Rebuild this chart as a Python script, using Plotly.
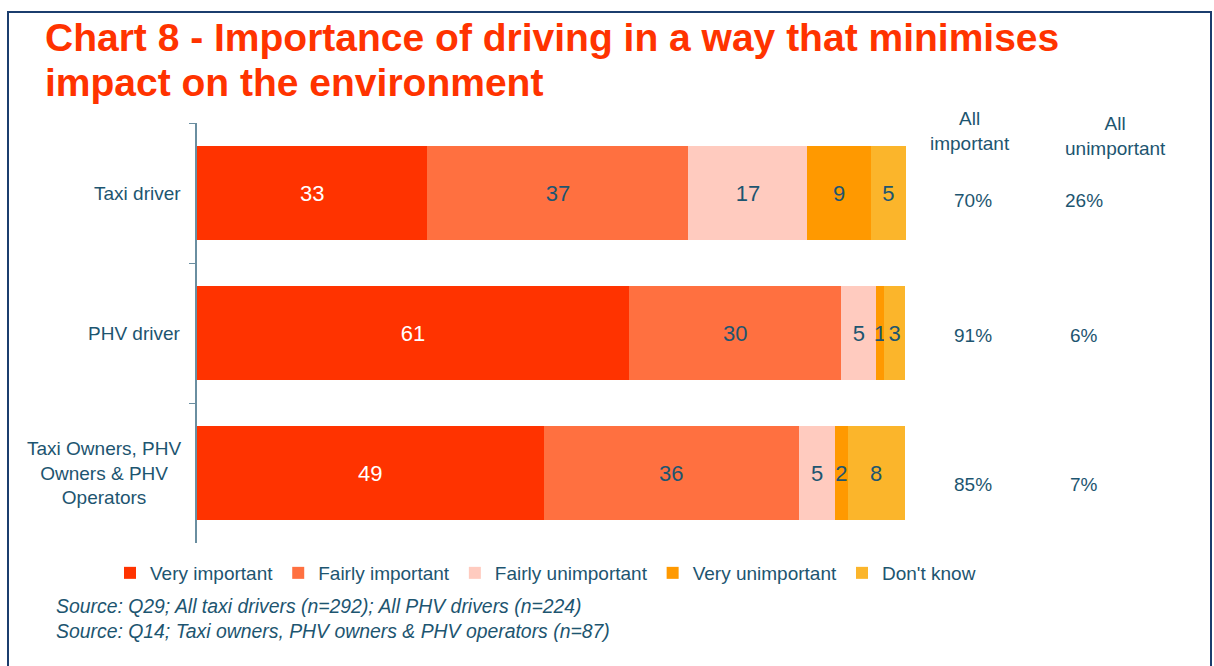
import plotly.graph_objects as go

categories = ["Taxi driver", "PHV driver", "Taxi Owners, PHV<br>Owners & PHV<br>Operators"]
series_names = ["Very important", "Fairly important", "Fairly unimportant", "Very unimportant", "Don't know"]
# estimated bar lengths (percent)
very_important = [32.5, 60.9, 48.9]
fairly_important = [36.8, 30.0, 36.0]
fairly_unimportant = [16.8, 4.9, 5.1]
very_unimportant = [8.9, 1.1, 1.8]
dont_know = [5.0, 3.0, 8.0]
# printed labels
labels_very_important = ["33", "61", "49"]
labels_fairly_important = ["37", "30", "36"]
labels_fairly_unimportant = ["17", "5", "5"]
labels_very_unimportant = ["9", "1", "2"]
labels_dont_know = ["5", "3", "8"]
all_important = ["70%", "91%", "85%"]
all_unimportant = ["26%", "6%", "7%"]
title_lines = ["Chart 8 - Importance of driving in a way that minimises", "impact on the environment"]

colors = ["#FF3300", "#FF7040", "#FFCBBF", "#FF9900", "#FBB52B"]
text_colors = ["#FFFFFF", "#1D5570", "#1D5570", "#1D5570", "#1D5570"]
values = [very_important, fairly_important, fairly_unimportant, very_unimportant, dont_know]
labels = [labels_very_important, labels_fairly_important, labels_fairly_unimportant,
          labels_very_unimportant, labels_dont_know]

TEAL = "#1D5570"
FONT = "Liberation Sans, Arial, sans-serif"

fig = go.Figure()
for name, vals, labs, col, tcol in zip(series_names, values, labels, colors, text_colors):
    fig.add_trace(go.Bar(
        y=categories, x=vals, name=name, orientation="h",
        marker=dict(color=col, line=dict(width=0)),
        text=labs, textposition="inside", insidetextanchor="middle", textangle=0,
        textfont=dict(color=tcol, size=22, family=FONT),
        hoverinfo="skip",
    ))

W, H = 1214, 666
L, R, T, B = 197, 308, 123, 123
pw, ph = W - L - R, H - T - B

def px_x(px):
    return (px - L) / pw

def px_y(py):
    return (H - B - py) / ph

annotations = []
# title (two lines)
for line, ymid in zip(title_lines, [37, 83]):
    annotations.append(dict(xref="paper", yref="paper", x=px_x(43), y=px_y(ymid),
                            text="<b>" + line + "</b>",
                            showarrow=False, xanchor="left", yanchor="middle", align="left",
                            font=dict(size=39, color="#FF3300", family=FONT)))
# category labels (centered multi-line, right-aligned block)
for cat in categories:
    annotations.append(dict(xref="paper", yref="y", x=px_x(183), y=cat, text=cat,
                            xanchor="right", yanchor="middle", align="center", showarrow=False,
                            font=dict(size=19, color=TEAL, family=FONT)))
# column headers
annotations.append(dict(xref="paper", yref="paper", x=px_x(970), y=px_y(131), text="All<br>important",
                        showarrow=False, xanchor="center", yanchor="middle", align="center",
                        font=dict(size=19, color=TEAL, family=FONT)))
annotations.append(dict(xref="paper", yref="paper", x=px_x(1115), y=px_y(136), text="All<br>unimportant",
                        showarrow=False, xanchor="center", yanchor="middle", align="center",
                        font=dict(size=19, color=TEAL, family=FONT)))
shifts = [-7, -2, -11]
for cat, a, u, s in zip(categories, all_important, all_unimportant, shifts):
    annotations.append(dict(xref="paper", yref="y", x=px_x(973), y=cat, text=a, yshift=s,
                            showarrow=False, xanchor="center", yanchor="middle",
                            font=dict(size=19, color=TEAL, family=FONT)))
    annotations.append(dict(xref="paper", yref="y", x=px_x(1084), y=cat, text=u, yshift=s,
                            showarrow=False, xanchor="center", yanchor="middle",
                            font=dict(size=19, color=TEAL, family=FONT)))
# sources
annotations.append(dict(xref="paper", yref="paper", x=px_x(54), y=px_y(606),
                        text="<i>Source: Q29; All taxi drivers (n=292); All PHV drivers (n=224)</i>",
                        showarrow=False, xanchor="left", yanchor="middle",
                        font=dict(size=19.4, color=TEAL, family=FONT)))
annotations.append(dict(xref="paper", yref="paper", x=px_x(54), y=px_y(631),
                        text="<i>Source: Q14; Taxi owners, PHV owners & PHV operators (n=87)</i>",
                        showarrow=False, xanchor="left", yanchor="middle",
                        font=dict(size=19.4, color=TEAL, family=FONT)))

BORDER = "#1B3D6E"
fig.update_layout(
    width=W, height=H,
    margin=dict(l=L, r=R, t=T, b=B, autoexpand=False),
    barmode="stack", bargap=0.33,
    plot_bgcolor="white", paper_bgcolor="white",
    showlegend=True,
    legend=dict(orientation="h", x=px_x(110), y=px_y(554), xanchor="left", yanchor="top",
                font=dict(size=19, color=TEAL, family=FONT), traceorder="normal",
                itemwidth=30, tracegroupgap=0, bgcolor="rgba(0,0,0,0)"),
    uniformtext=dict(minsize=22, mode="show"),
    xaxis=dict(range=[0, 100], visible=False, fixedrange=True),
    yaxis=dict(categoryorder="array", categoryarray=categories, autorange="reversed",
               showticklabels=False, ticks="outside", ticklen=6, tickcolor="#6A8EA0",
               tickson="boundaries", showline=True, linecolor="#6A8EA0", linewidth=2,
               showgrid=False, zeroline=False, fixedrange=True),
    annotations=annotations,
    shapes=[
        dict(type="line", xref="paper", yref="paper", x0=px_x(8), x1=px_x(8), y0=px_y(12), y1=px_y(700),
             line=dict(color=BORDER, width=2), layer="above"),
        dict(type="line", xref="paper", yref="paper", x0=px_x(7), x1=px_x(1212), y0=px_y(12), y1=px_y(12),
             line=dict(color=BORDER, width=2), layer="above"),
        dict(type="line", xref="paper", yref="paper", x0=px_x(1211), x1=px_x(1211), y0=px_y(12), y1=px_y(700),
             line=dict(color=BORDER, width=2), layer="above"),
    ],
)

fig.write_html("out.html", config={"displayModeBar": False},
               post_script="document.body.style.margin='0';document.body.style.overflow='hidden';")
